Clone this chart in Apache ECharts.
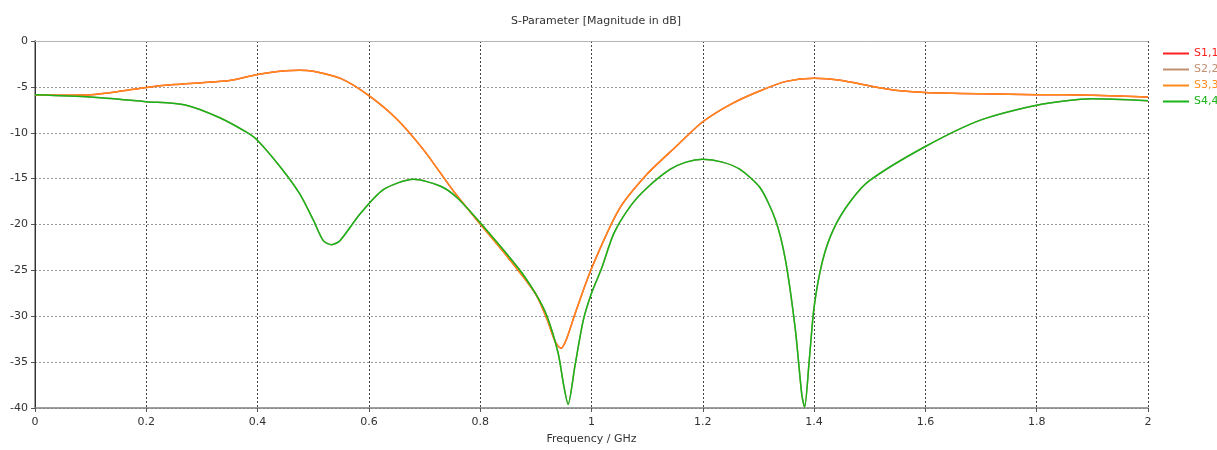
<!DOCTYPE html>
<html>
<head>
<meta charset="utf-8">
<title>S-Parameter</title>
<script src="https://cdn.jsdelivr.net/npm/echarts@6/dist/echarts.min.js"></script>
<style>
  html, body { margin: 0; padding: 0; background: #fff; }
  #main { width: 1217px; height: 450px; }
</style>
</head>
<body>
<div id="main"></div>
<script>
// frequency in GHz, magnitude in dB
const s33Freq = [0, 0.05, 0.1, 0.15, 0.2, 0.25, 0.3, 0.35, 0.4, 0.45, 0.475, 0.5, 0.55, 0.6, 0.65, 0.7, 0.75, 0.8, 0.85, 0.9, 0.92, 0.935, 0.945, 0.955, 0.97, 1.0, 1.05, 1.1, 1.15, 1.2, 1.25, 1.3, 1.35, 1.4, 1.45, 1.5, 1.55, 1.6, 1.7, 1.8, 1.9, 2.0];
const s33Db = [-5.85, -5.9, -5.85, -5.5, -5.06, -4.75, -4.55, -4.3, -3.65, -3.25, -3.18, -3.3, -4.1, -5.95, -8.5, -12.0, -16.2, -19.95, -23.6, -27.6, -30.3, -32.8, -33.5, -32.5, -29.8, -24.8, -18.3, -14.5, -11.6, -8.8, -6.9, -5.5, -4.4, -4.05, -4.3, -4.9, -5.4, -5.6, -5.75, -5.85, -5.9, -6.1];

const s44Freq = [0, 0.1, 0.2, 0.27, 0.33, 0.38, 0.4, 0.443, 0.476, 0.5, 0.518, 0.533, 0.548, 0.584, 0.626, 0.68, 0.728, 0.758, 0.8, 0.869, 0.9, 0.92, 0.94, 0.95, 0.958, 0.97, 0.985, 1.0, 1.018, 1.04, 1.07, 1.1, 1.141, 1.17, 1.2, 1.235, 1.267, 1.303, 1.33, 1.348, 1.366, 1.378, 1.383, 1.391, 1.4, 1.415, 1.435, 1.465, 1.5, 1.6, 1.7, 1.8, 1.9, 2.0];
const s44Db = [-5.85, -6.1, -6.61, -6.97, -8.31, -9.94, -10.84, -13.9, -16.7, -19.5, -21.76, -22.2, -21.76, -18.86, -16.2, -15.07, -15.8, -17.05, -19.8, -24.8, -27.6, -30.0, -34.0, -37.5, -39.6, -35.5, -30.5, -27.5, -24.8, -21.0, -18.0, -16.0, -14.0, -13.2, -12.9, -13.2, -14.0, -16.0, -19.4, -23.7, -31.3, -38.6, -39.9, -35.0, -29.0, -24.0, -20.5, -17.5, -15.2, -11.5, -8.6, -7.0, -6.3, -6.5];

// S1,1 / S2,2 lie under S3,3 / S4,4
const seriesNames = ["S1,1", "S2,2", "S3,3", "S4,4"];
const seriesColors = ["#ff2020", "#c09070", "#ff8c1a", "#19b419"];
const seriesFreq = [s33Freq, s44Freq, s33Freq, s44Freq];
const seriesDb = [s33Db, s44Db, s33Db, s44Db];

const xTicks = { min: 0, max: 2, step: 0.2 };
const yTicks = { min: -40, max: 0, step: 5 };

const font = "DejaVu Sans";
const chart = echarts.init(document.getElementById("main"));

let seriesData = [];
for (let i = 0; i < seriesNames.length; i++) {
  const pts = seriesFreq[i].map((f, k) => [f, seriesDb[i][k]]);
  seriesData.push({
    name: seriesNames[i],
    type: "line",
    data: pts,
    smooth: 0.25,
    showSymbol: false,
    animation: false,
    lineStyle: { color: seriesColors[i], width: 1.5 },
    itemStyle: { color: seriesColors[i] }
  });
}

const option = {
  backgroundColor: "#fff",
  animation: false,
  title: {
    text: "S-Parameter [Magnitude in dB]",
    left: 591,
    top: 11,
    textAlign: "center",
    textStyle: { fontFamily: font, fontSize: 11, fontWeight: "normal", color: "#333" }
  },
  legend: {
    orient: "vertical",
    left: 1158,
    top: 42,
    itemWidth: 26,
    itemHeight: 2,
    itemGap: 3,
    icon: "rect",
    data: seriesNames.map((n, i) => ({
      name: n,
      textStyle: { color: seriesColors[i] }
    })),
    textStyle: { fontFamily: font, fontSize: 11, lineHeight: 13 }
  },
  grid: { left: 35, right: 69, top: 41, bottom: 40 },
  xAxis: [
    {
      type: "value",
      min: xTicks.min,
      max: xTicks.max,
      interval: xTicks.step,
      name: "Frequency / GHz",
      nameLocation: "middle",
      nameGap: 26,
      nameTextStyle: { fontFamily: font, fontSize: 11, color: "#333" },
      axisLine: { show: true, onZero: false, lineStyle: { color: "#808080", width: 1.5 } },
      axisTick: { show: true, length: 4, lineStyle: { color: "#555" } },
      axisLabel: { fontFamily: font, fontSize: 11, color: "#333", margin: 9 },
      splitLine: { show: true, lineStyle: { color: "#444", type: [2, 2], width: 1 } }
    },
    {
      type: "value",
      position: "top",
      min: xTicks.min,
      max: xTicks.max,
      interval: xTicks.step,
      axisLine: { show: true, lineStyle: { color: "#b4b4b4" } },
      axisTick: { show: false },
      axisLabel: { show: false },
      splitLine: { show: false }
    }
  ],
  yAxis: [
    {
      type: "value",
      min: yTicks.min,
      max: yTicks.max,
      interval: yTicks.step,
      axisLine: { show: true, onZero: false, lineStyle: { color: "#808080", width: 1.5 } },
      axisTick: { show: true, length: 4, lineStyle: { color: "#555" } },
      axisLabel: { fontFamily: font, fontSize: 11, color: "#333", margin: 7 },
      splitLine: { show: true, lineStyle: { color: "#9a9a9a", type: [2, 2], width: 1 } }
    },
    {
      type: "value",
      position: "right",
      min: yTicks.min,
      max: yTicks.max,
      interval: yTicks.step,
      axisLine: { show: true, lineStyle: { color: "#333" } },
      axisTick: { show: false },
      axisLabel: { show: false },
      splitLine: { show: false }
    }
  ],
  series: seriesData
};

chart.setOption(option);
</script>
</body>
</html>
